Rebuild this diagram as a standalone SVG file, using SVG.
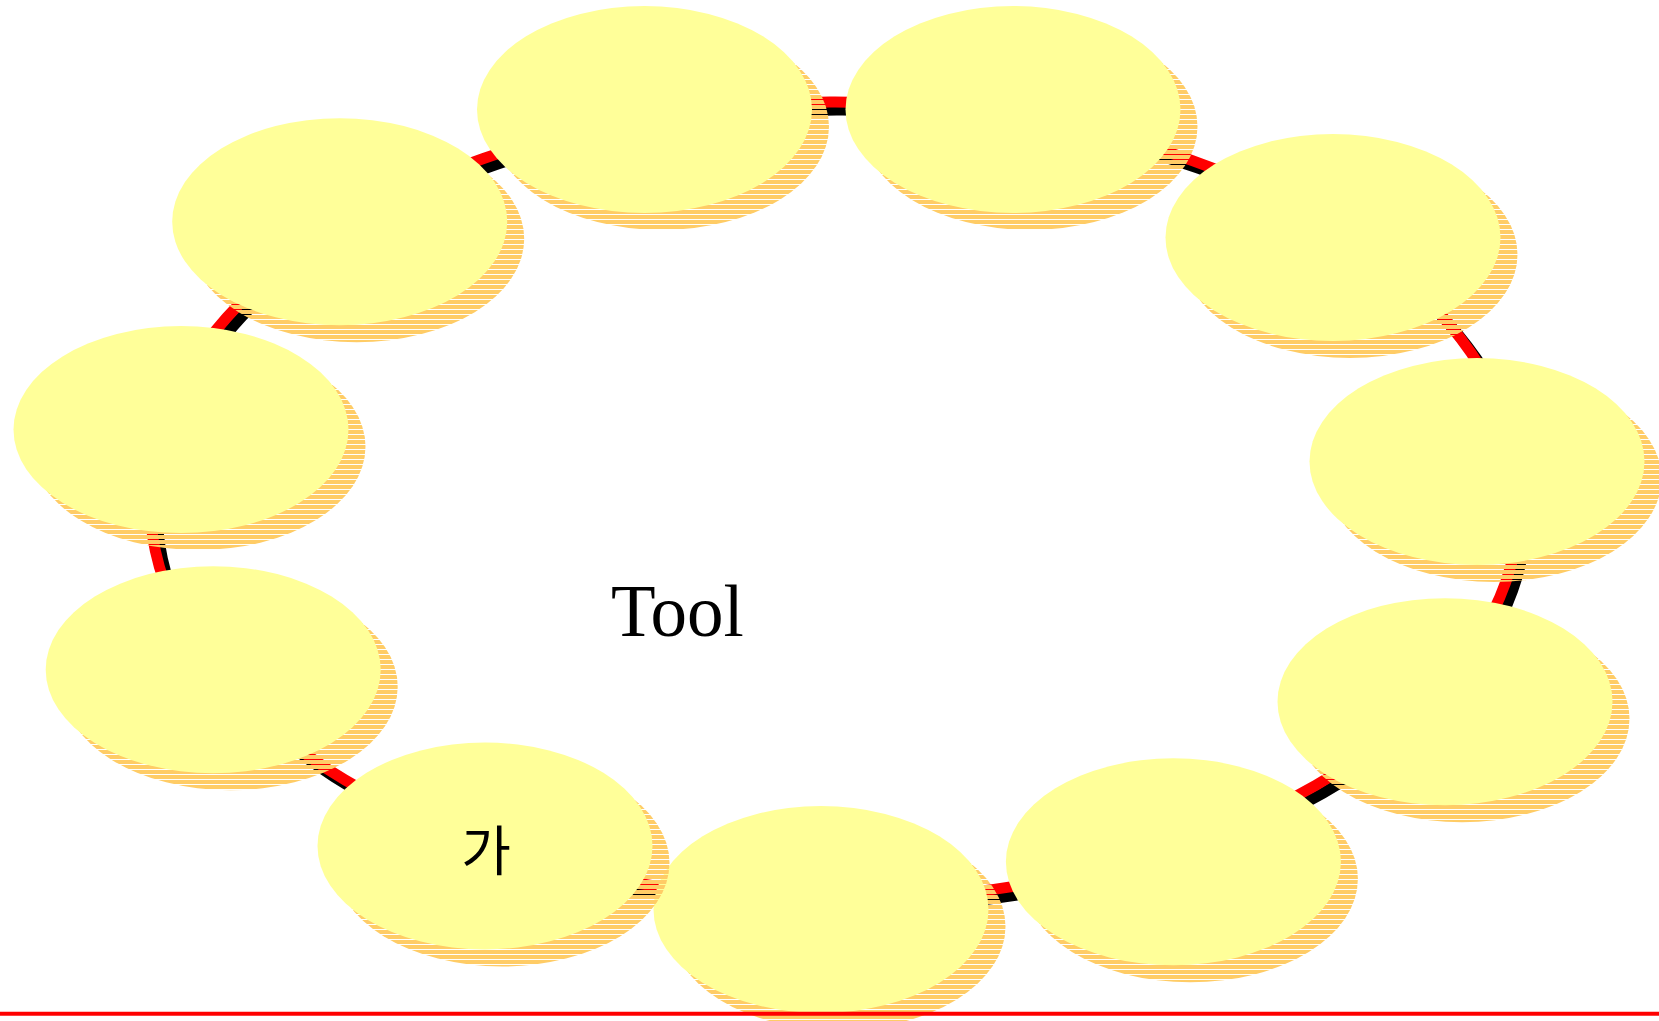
<svg xmlns="http://www.w3.org/2000/svg" width="1659" height="1021" viewBox="0 0 1659 1021">
<style>
.node-shadow{fill:url(#stripes)}
.node-body{fill:#FFFF99}
.edge{fill:none;stroke-width:11}
.edge-shadow{stroke:#000000}
.edge-line{stroke:#FF0000}
.label-serif{font-family:"Liberation Serif","Times New Roman",serif;font-size:73px;fill:#000}
.label-kr{font-family:"Noto Sans CJK KR","Noto Sans",sans-serif;font-size:54px;fill:#000}
</style>
<defs>
<pattern id="stripes" patternUnits="userSpaceOnUse" width="10" height="5">
<rect x="0" y="0" width="10" height="4" fill="#FFCC66"/>
</pattern>
</defs>
<rect width="1659" height="1021" fill="#FFFFFF"/>
<g id="connectors">
<g id="e1-2"><path class="edge edge-shadow" transform="translate(7,8)" d="M648.3,117.1 A685,399 0 0 1 1011.7,115.5"/><path class="edge edge-line" d="M648.3,117.1 A685,399 0 0 1 1011.7,115.5"/></g>
<g id="e2-3"><path class="edge edge-shadow" transform="translate(7,8)" d="M1011.7,115.5 A685,399 0 0 1 1342.6,233"/><path class="edge edge-line" d="M1011.7,115.5 A685,399 0 0 1 1342.6,233"/></g>
<g id="e3-4"><path class="edge edge-shadow" transform="translate(7,8)" d="M1342.6,233 A685,399 0 0 1 1516.3,459.6"/><path class="edge edge-line" d="M1342.6,233 A685,399 0 0 1 1516.3,459.6"/></g>
<g id="e4-5"><path class="edge edge-shadow" transform="translate(7,8)" d="M1516.3,459.6 A685,399 0 0 1 1431.4,697.3"/><path class="edge edge-line" d="M1516.3,459.6 A685,399 0 0 1 1431.4,697.3"/></g>
<g id="e5-6"><path class="edge edge-shadow" transform="translate(7,8)" d="M1431.4,697.3 A685,399 0 0 1 1163.4,851.2"/><path class="edge edge-line" d="M1431.4,697.3 A685,399 0 0 1 1163.4,851.2"/></g>
<g id="e6-7"><path class="edge edge-shadow" transform="translate(7,8)" d="M1163.4,851.2 A685,399 0 0 1 821.4,899.9"/><path class="edge edge-line" d="M1163.4,851.2 A685,399 0 0 1 821.4,899.9"/></g>
<g id="e7-8"><path class="edge edge-shadow" transform="translate(7,8)" d="M821.4,899.9 A685,399 0 0 1 486.5,844.5"/><path class="edge edge-line" d="M821.4,899.9 A685,399 0 0 1 486.5,844.5"/></g>
<g id="e8-9"><path class="edge edge-shadow" transform="translate(7,8)" d="M486.5,844.5 A685,399 0 0 1 214.1,669.5"/><path class="edge edge-line" d="M486.5,844.5 A685,399 0 0 1 214.1,669.5"/></g>
<g id="e9-10"><path class="edge edge-shadow" transform="translate(7,8)" d="M214.1,669.5 A685,399 0 0 1 161.7,427.5"/><path class="edge edge-line" d="M214.1,669.5 A685,399 0 0 1 161.7,427.5"/></g>
<g id="e10-11"><path class="edge edge-shadow" transform="translate(7,8)" d="M161.7,427.5 A685,399 0 0 1 342.9,223.5"/><path class="edge edge-line" d="M161.7,427.5 A685,399 0 0 1 342.9,223.5"/></g>
<g id="e11-1"><path class="edge edge-shadow" transform="translate(7,8)" d="M342.9,223.5 A685,399 0 0 1 648.3,117.1"/><path class="edge edge-line" d="M342.9,223.5 A685,399 0 0 1 648.3,117.1"/></g>
</g>
<g id="node1"><ellipse class="node-shadow" cx="661.5" cy="126.5" rx="167.5" ry="103.5"/><ellipse class="node-body" cx="644.5" cy="109.5" rx="167.5" ry="103.5"/></g>
<g id="node2"><ellipse class="node-shadow" cx="1030" cy="126.5" rx="167.5" ry="103.5"/><ellipse class="node-body" cx="1013" cy="109.5" rx="167.5" ry="103.5"/></g>
<g id="node3"><ellipse class="node-shadow" cx="1350" cy="254.5" rx="167.5" ry="103.5"/><ellipse class="node-body" cx="1333" cy="237.5" rx="167.5" ry="103.5"/></g>
<g id="node4"><ellipse class="node-shadow" cx="1494" cy="478.5" rx="167.5" ry="103.5"/><ellipse class="node-body" cx="1477" cy="461.5" rx="167.5" ry="103.5"/></g>
<g id="node5"><ellipse class="node-shadow" cx="1462" cy="718.7" rx="167.5" ry="103.5"/><ellipse class="node-body" cx="1445" cy="701.7" rx="167.5" ry="103.5"/></g>
<g id="node6"><ellipse class="node-shadow" cx="1190.4" cy="878.8" rx="167.5" ry="103.5"/><ellipse class="node-body" cx="1173.4" cy="861.8" rx="167.5" ry="103.5"/></g>
<g id="node7"><ellipse class="node-shadow" cx="838" cy="926.5" rx="167.5" ry="103.5"/><ellipse class="node-body" cx="821" cy="909.5" rx="167.5" ry="103.5"/></g>
<g id="node8"><ellipse class="node-shadow" cx="502" cy="863" rx="167.5" ry="103.5"/><ellipse class="node-body" cx="485" cy="846" rx="167.5" ry="103.5"/><text class="label-kr" x="486" y="871" text-anchor="middle">가</text></g>
<g id="node9"><ellipse class="node-shadow" cx="230.2" cy="686.7" rx="167.5" ry="103.5"/><ellipse class="node-body" cx="213.2" cy="669.7" rx="167.5" ry="103.5"/></g>
<g id="node10"><ellipse class="node-shadow" cx="198" cy="446.6" rx="167.5" ry="103.5"/><ellipse class="node-body" cx="181" cy="429.6" rx="167.5" ry="103.5"/></g>
<g id="node11"><ellipse class="node-shadow" cx="356.7" cy="238.7" rx="167.5" ry="103.5"/><ellipse class="node-body" cx="339.7" cy="221.7" rx="167.5" ry="103.5"/></g>
<g id="title"><text class="label-serif" x="611" y="636">Tool</text></g>
<line id="baseline" x1="0" y1="1013.7" x2="1659" y2="1013.7" stroke="#FF0000" stroke-width="4"/>
</svg>
